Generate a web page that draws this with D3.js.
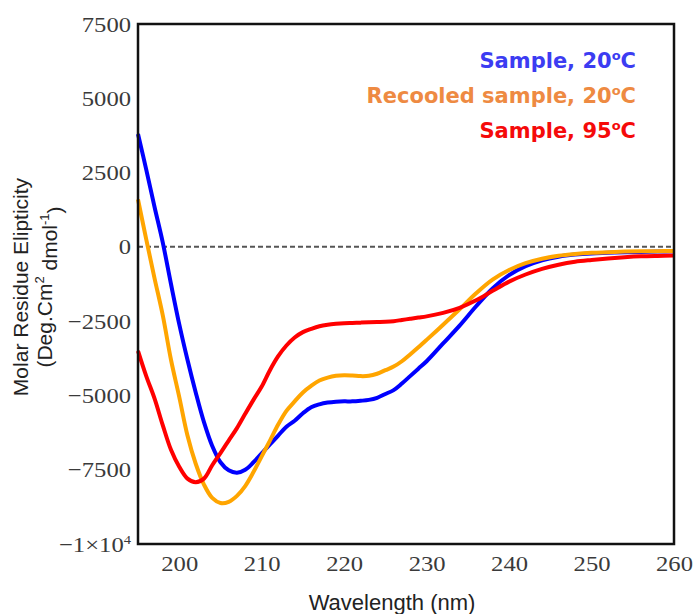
<!DOCTYPE html>
<html>
<head>
<meta charset="utf-8">
<script src="https://cdn.jsdelivr.net/npm/d3@7"></script>
<style>
  body { margin: 0; background: #fff; }
  svg { display: block; }
  .tick text { transform-box: fill-box; transform: scaleX(1.12); }
  .y-axis .tick text { transform-origin: right center; }
  .x-axis .tick text { transform-origin: center; }
</style>
</head>
<body>
<div id="chart"></div>
<script>
// CD spectra
const wavelengths = [195, 196, 197, 198, 199, 200, 201, 202, 203, 204, 205, 206, 207, 208, 209,
  210, 211, 212, 213, 214, 215, 216, 217, 218, 219, 220, 221, 222, 223, 224, 225, 226, 227, 228,
  229, 230, 232, 234, 236, 238, 240, 242, 244, 246, 248, 250, 252, 254, 256, 258, 260];

const sample20 = [3800, 2600, 1350, 150, -1250, -2600, -3800, -4900, -5900, -6700, -7250, -7520,
  -7600, -7500, -7250, -6950, -6650, -6350, -6050, -5850, -5600, -5400, -5300, -5240, -5210,
  -5200, -5200, -5180, -5150, -5080, -4950, -4820, -4600, -4350, -4100, -3850, -3250, -2650,
  -2000, -1400, -950, -650, -450, -330, -260, -220, -200, -180, -170, -160, -150];

const recooled20 = [1600, 250, -1050, -2300, -3800, -5050, -6350, -7300, -8000, -8450, -8620,
  -8580, -8380, -8050, -7580, -7050, -6520, -5980, -5520, -5200, -4900, -4680, -4500, -4400,
  -4340, -4320, -4330, -4350, -4340, -4270, -4150, -4030, -3850, -3620, -3380, -3130, -2620,
  -2100, -1560, -1100, -780, -550, -400, -300, -240, -200, -180, -160, -150, -145, -140];

const sample95 = [-3500, -4350, -5100, -6000, -6830, -7400, -7800, -7920, -7800, -7350, -6940,
  -6520, -6100, -5620, -5150, -4700, -4150, -3680, -3320, -3050, -2870, -2760, -2670, -2620,
  -2590, -2570, -2560, -2550, -2540, -2530, -2520, -2500, -2460, -2420, -2380, -2340, -2220,
  -2050, -1800, -1480, -1170, -930, -740, -600, -500, -440, -390, -350, -320, -305, -295];

const xTicks = [200, 210, 220, 230, 240, 250, 260];
const yTicks = [7500, 5000, 2500, 0, -2500, -5000, -7500, -10000];

const series = [
  { name: "Sample, 20\u00BAC", values: sample20, color: "#0000ff", text: "#3c3cf2" },
  { name: "Recooled sample, 20\u00BAC", values: recooled20, color: "#ffa500", text: "#ee8a42" },
  { name: "Sample, 95\u00BAC", values: sample95, color: "#ff0000", text: "#f50a0a" }
];

const width = 695, height = 614;
const margin = { top: 24, right: 21, bottom: 70, left: 138 };

const svg = d3.select("#chart").append("svg")
  .attr("width", width)
  .attr("height", height);

const x = d3.scaleLinear().domain([195, 260]).range([margin.left, width - margin.right]);
const y = d3.scaleLinear().domain([-10000, 7500]).range([height - margin.bottom, margin.top]);

// Zero reference line
svg.append("line")
  .attr("x1", x(195)).attr("x2", x(260))
  .attr("y1", y(0)).attr("y2", y(0))
  .attr("stroke", "#555")
  .attr("stroke-width", 2)
  .attr("stroke-dasharray", "5,3");

// Curves
const line = d3.line()
  .x((d, i) => x(wavelengths[i]))
  .y(d => y(d))
  .curve(d3.curveCatmullRom.alpha(0.5));

svg.append("g")
  .attr("class", "curves")
  .selectAll("path")
  .data(series)
  .join("path")
  .attr("d", s => line(s.values))
  .attr("fill", "none")
  .attr("stroke", s => s.color)
  .attr("stroke-width", 4)
  .attr("stroke-linejoin", "round");

// Frame
svg.append("rect")
  .attr("x", margin.left)
  .attr("y", margin.top)
  .attr("width", width - margin.left - margin.right)
  .attr("height", height - margin.top - margin.bottom)
  .attr("fill", "none")
  .attr("stroke", "#111")
  .attr("stroke-width", 2.5);

const serif = "'Liberation Serif', 'Times New Roman', serif";
const sans = "'Liberation Sans', Arial, sans-serif";

// Y axis tick labels
const yAxis = svg.append("g")
  .attr("class", "y-axis")
  .attr("transform", `translate(${margin.left},0)`)
  .call(d3.axisLeft(y).tickValues(yTicks).tickSize(0).tickPadding(7)
    .tickFormat(d => d < 0 ? "\u2212" + Math.abs(d) : d));
yAxis.select(".domain").remove();
yAxis.selectAll("text")
  .attr("font-family", serif)
  .attr("font-size", 22)
  .attr("fill", "#3a3a3a");

// -1x10^4 label with superscript
yAxis.selectAll(".tick").filter(d => d === -10000).select("text")
  .text(null)
  .call(t => {
    t.append("tspan").text("\u22121\u00D710");
    t.append("tspan").attr("font-size", 13).attr("dy", "-0.55em").text("4");
  });

// X axis tick labels
const xAxis = svg.append("g")
  .attr("class", "x-axis")
  .attr("transform", `translate(0,${height - margin.bottom})`)
  .call(d3.axisBottom(x).tickValues(xTicks).tickSize(0).tickPadding(11));
xAxis.select(".domain").remove();
xAxis.selectAll("text")
  .attr("font-family", serif)
  .attr("font-size", 22)
  .attr("fill", "#3a3a3a");

// Axis titles
svg.append("text")
  .attr("x", 392)
  .attr("y", 610)
  .attr("text-anchor", "middle")
  .attr("font-family", sans)
  .attr("font-size", 22)
  .attr("fill", "#222")
  .text("Wavelength (nm)");

const yTitle = svg.append("g")
  .attr("transform", "translate(0,287) rotate(-90)")
  .attr("font-family", sans)
  .attr("font-size", 21)
  .attr("fill", "#222")
  .attr("text-anchor", "middle");
yTitle.append("text").attr("x", 0).attr("y", 28).text("Molar Residue Elipticity");
const unit = yTitle.append("text").attr("x", 0).attr("y", 52);
unit.append("tspan").text("(Deg.Cm");
unit.append("tspan").attr("font-size", 13).attr("dy", "-0.6em").text("2");
unit.append("tspan").attr("dy", "0.6em").text(" dmol");
unit.append("tspan").attr("font-size", 13).attr("dy", "-0.6em").text("-1");
unit.append("tspan").attr("dy", "0.6em").text(")");

// Legend (right aligned text, raised small "o" for the degree mark)
svg.append("g")
  .attr("class", "legend")
  .selectAll("text")
  .data(series)
  .join("text")
  .attr("x", 636)
  .attr("y", (d, i) => 68 + i * 35)
  .attr("text-anchor", "end")
  .attr("font-family", "'DejaVu Sans', Verdana, sans-serif")
  .attr("font-weight", "bold")
  .attr("font-size", 21)
  .attr("fill", d => d.text)
  .each(function(d) {
    const [head, tail] = d.name.split("\u00BA");
    const t = d3.select(this);
    t.append("tspan").text(head);
    t.append("tspan").attr("font-size", 13).attr("dy", "-0.62em").text("o");
    t.append("tspan").attr("dy", "0.38em").text(tail);
  });
</script>
</body>
</html>
